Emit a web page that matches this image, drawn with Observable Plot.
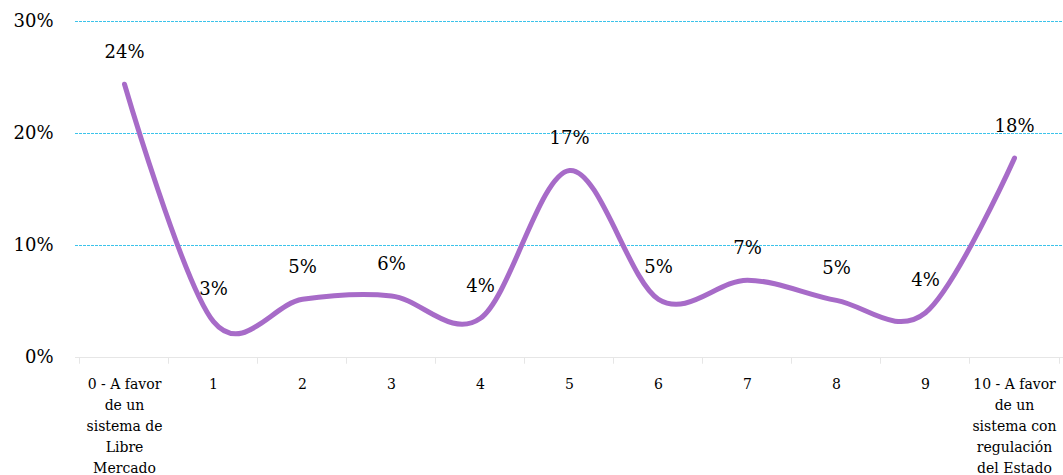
<!DOCTYPE html>
<html>
<head>
<meta charset="utf-8">
<script src="https://cdn.jsdelivr.net/npm/d3@7"></script>
<script src="https://cdn.jsdelivr.net/npm/@observablehq/plot@0.6"></script>
<style>
  html, body { margin: 0; padding: 0; background: #fff; }
  svg { display: block; }
</style>
</head>
<body>
<div id="chart"></div>
<script>
const categories = ["0","1","2","3","4","5","6","7","8","9","10"];
const tickLabels = [
  "0 - A favor\nde un\nsistema de\nLibre\nMercado",
  "1","2","3","4","5","6","7","8","9",
  "10 - A favor\nde un\nsistema con\nregulación\ndel Estado"
];
const values = [24.4, 3.2, 5.2, 5.5, 3.5, 16.7, 5.2, 6.9, 5.1, 4.0, 17.8];
const yTicks = [0, 10, 20, 30];
const gridTicks = [10, 20, 30];

const data = categories.map((c, i) => ({cat: c, value: values[i]}));
const labelOf = new Map(categories.map((c, i) => [c, tickLabels[i]]));
const font = "DejaVu Serif";

const chart = Plot.plot({
  width: 1063,
  height: 475,
  marginLeft: 75,
  marginRight: 0,
  marginTop: 21,
  marginBottom: 118,
  style: {fontFamily: font, color: "#000", background: "#fff", overflow: "visible"},
  x: {type: "point", domain: categories, padding: 0.5},
  y: {domain: [0, 30]},
  marks: [
    Plot.ruleY(gridTicks, {stroke: "#3cc3ea", strokeWidth: 1.2, strokeDasharray: "3,1"}),
    Plot.ruleY([0], {stroke: "#e6e6e6", strokeWidth: 1}),
    Plot.ruleX(categories, {x: d => d, y1: 0, y2: -0.6, dx: -45, stroke: "#e6e6e6"}),
    Plot.ruleX(["10"], {x: d => d, y1: 0, y2: -0.6, dx: 45, stroke: "#e6e6e6"}),
    Plot.axisY({
      ticks: yTicks, tickSize: 0, tickPadding: 22, fontSize: 18, fontFamily: font,
      tickFormat: d => d + "%", label: null
    }),
    Plot.axisX({
      tickSize: 0, tickPadding: 17, fontSize: 14, lineHeight: 1.5, fontFamily: font,
      tickFormat: d => labelOf.get(d), label: null
    }),
    Plot.line(data, {
      x: "cat", y: "value", curve: "cardinal",
      stroke: "#a76bc8", strokeWidth: 5, strokeLinecap: "round"
    }),
    Plot.text(data, {
      x: "cat", y: "value", text: d => Math.round(d.value) + "%",
      dy: -32, fontSize: 18, fontFamily: font, fill: "#000"
    })
  ]
});
document.getElementById("chart").append(chart);
</script>
</body>
</html>
